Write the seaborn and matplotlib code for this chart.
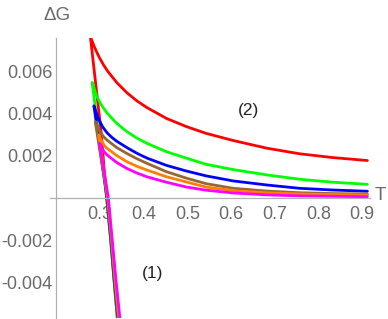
import pandas as pd
import seaborn as sns
import matplotlib.pyplot as plt
from matplotlib.ticker import MultipleLocator

sns.set_style('white')
plt.rcParams['font.family'] = ['Liberation Sans', 'DejaVu Sans']

curves = ['red', 'green', 'blue', 'brown', 'orange', 'magenta']
colors = ['#ff0000', '#00ff00', '#0000ff', '#996633', '#ff8000', '#ff00ff']

# upper branch (2)
red_T = [0.278, 0.288, 0.298, 0.308, 0.318, 0.338, 0.361, 0.384, 0.407, 0.452, 0.498, 0.543, 0.605, 0.681, 0.757, 0.833, 0.912]
red_G = [0.00765, 0.00713, 0.00669, 0.00632, 0.00601, 0.00549, 0.00501, 0.00462, 0.0043, 0.00378, 0.00339, 0.00307, 0.00273, 0.00237, 0.0021, 0.00192, 0.00178]
green_T = [0.282, 0.292, 0.302, 0.316, 0.338, 0.361, 0.384, 0.407, 0.452, 0.498, 0.543, 0.605, 0.681, 0.757, 0.833, 0.912]
green_G = [0.00549, 0.00487, 0.00445, 0.00404, 0.00355, 0.00316, 0.00285, 0.0026, 0.0022, 0.00189, 0.0016, 0.00135, 0.0011, 0.00089, 0.00075, 0.00065]
blue_T = [0.286, 0.296, 0.306, 0.316, 0.327, 0.338, 0.361, 0.384, 0.407, 0.452, 0.498, 0.543, 0.605, 0.681, 0.757, 0.833, 0.912]
blue_G = [0.00438, 0.00378, 0.00338, 0.0031, 0.00288, 0.0027, 0.0024, 0.00213, 0.0019, 0.00155, 0.00128, 0.00105, 0.00081, 0.00062, 0.00046, 0.00038, 0.00032]
brown_T = [0.289, 0.298, 0.307, 0.316, 0.338, 0.361, 0.384, 0.407, 0.452, 0.498, 0.543, 0.605, 0.681, 0.757, 0.833, 0.912]
brown_G = [0.00363, 0.00323, 0.00294, 0.00275, 0.0024, 0.00212, 0.00187, 0.00165, 0.00125, 0.00094, 0.00068, 0.00046, 0.00033, 0.00025, 0.00021, 0.00019]
orange_T = [0.297, 0.304, 0.31, 0.316, 0.338, 0.361, 0.384, 0.407, 0.452, 0.498, 0.543, 0.605, 0.681, 0.757, 0.833, 0.912]
orange_G = [0.0030, 0.00269, 0.00249, 0.00236, 0.00202, 0.00173, 0.00151, 0.00133, 0.00101, 0.00076, 0.00052, 0.00035, 0.00025, 0.00019, 0.00016, 0.00014]
magenta_T = [0.299, 0.304, 0.31, 0.316, 0.338, 0.361, 0.384, 0.407, 0.452, 0.498, 0.543, 0.605, 0.681, 0.757, 0.833, 0.912]
magenta_G = [0.0026, 0.00238, 0.00218, 0.00205, 0.00169, 0.00141, 0.00119, 0.00101, 0.00075, 0.00052, 0.00037, 0.00024, 0.00015, 0.0001, 0.00008, 0.00006]

# lower branch (1), from the cusp downwards
red_low_T = [0.302, 0.315, 0.3245, 0.3325, 0.3415]
red_low_G = [0.00324, 0.0, -0.002, -0.004, -0.0062]
green_low_T = [0.3155, 0.3245, 0.3325, 0.342]
blue_low_T = [0.316, 0.325, 0.333, 0.343]
brown_low_T = [0.317, 0.326, 0.334, 0.344]
orange_low_T = [0.318, 0.327, 0.3355, 0.346]
magenta_low_T = [0.319, 0.328, 0.337, 0.348]
low_G = [0.0, -0.002, -0.004, -0.0062]

upper = {
    'red': (red_T, red_G), 'green': (green_T, green_G), 'blue': (blue_T, blue_G),
    'brown': (brown_T, brown_G), 'orange': (orange_T, orange_G), 'magenta': (magenta_T, magenta_G),
}
lower = {
    'red': (red_low_T, red_low_G), 'green': (green_low_T, low_G), 'blue': (blue_low_T, low_G),
    'brown': (brown_low_T, low_G), 'orange': (orange_low_T, low_G), 'magenta': (magenta_low_T, low_G),
}

rows = []
for c in curves:
    lt, lg = lower[c]
    ut, ug = upper[c]
    path_T = list(reversed(lt)) + ut
    path_G = list(reversed(lg)) + ug
    for i, (t, g) in enumerate(zip(path_T, path_G)):
        rows.append({'curve': c, 'T': t, 'G': g, 'step': i})
df = pd.DataFrame(rows)

fig = plt.figure(figsize=(3.88, 3.19), dpi=100)
ax = fig.add_axes([50 / 388, 1 / 319, 320 / 388, 280 / 319])

sns.lineplot(data=df, x='T', y='G', hue='curve', hue_order=curves, palette=colors,
             sort=False, estimator=None, linewidth=2.0, legend=False, ax=ax)

ax.set_xlim(0.1855, 0.918)
ax.set_ylim(-0.0057, 0.0076)

axis_col = '#b0b0b0'
text_col = '#6a6a6a'
for s in ['top', 'right']:
    ax.spines[s].set_visible(False)
ax.spines['left'].set_position(('data', 0.2))
ax.spines['bottom'].set_position(('data', 0.0))
for s in ['left', 'bottom']:
    ax.spines[s].set_color(axis_col)
    ax.spines[s].set_linewidth(0.9)

ax.set_xticks([0.3, 0.4, 0.5, 0.6, 0.7, 0.8, 0.9])
ax.set_xticklabels(['0.3', '0.4', '0.5', '0.6', '0.7', '0.8', '0.9'])
ax.set_yticks([-0.004, -0.002, 0.002, 0.004, 0.006])
ax.set_yticklabels(['-0.004', '-0.002', '0.002', '0.004', '0.006'])
ax.xaxis.set_minor_locator(MultipleLocator(0.02))
ax.yaxis.set_minor_locator(MultipleLocator(0.0005))
ax.tick_params(which='both', direction='in', colors=axis_col, labelcolor=text_col, labelsize=13)
ax.tick_params(which='major', length=4, width=0.8)
ax.tick_params(which='minor', length=2.2, width=0.6)
ax.tick_params(axis='x', which='major', pad=6)
ax.tick_params(axis='y', which='major', pad=3)
ax.set_xlabel('')
ax.set_ylabel('')
ax.set_facecolor('white')

fig.text(57 / 388, 1 - 15 / 319, '\u0394G', ha='center', va='center', fontsize=13.5, color=text_col)
fig.text(380 / 388, 1 - 196 / 319, 'T', ha='center', va='center', fontsize=13.5, color=text_col)
ax.text(0.639, 0.00414, '(2)', ha='center', va='center', fontsize=12.5, color='#222222')
ax.text(0.420, -0.00357, '(1)', ha='center', va='center', fontsize=12.5, color='#222222')

fig.savefig('out.png', dpi=100)
